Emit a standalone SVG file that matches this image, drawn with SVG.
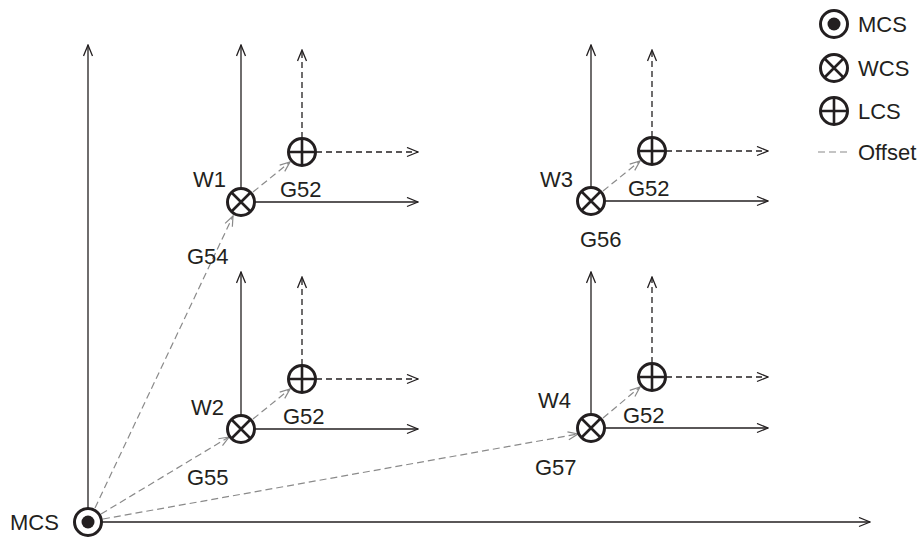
<svg xmlns="http://www.w3.org/2000/svg" xmlns:xlink="http://www.w3.org/1999/xlink" width="923" height="538" viewBox="0 0 923 538">
<style>
text{font-family:"Liberation Sans",Arial,sans-serif;font-size:22px;fill:#231f20}
.ax{stroke:#231f20;stroke-width:1.3;fill:none}
.axd{stroke:#231f20;stroke-width:1.3;fill:none;stroke-dasharray:6,4}
.off{stroke:#8a8a8a;stroke-width:1.2;fill:none;stroke-dasharray:7,4}
.sym{stroke:#231f20;stroke-width:3;fill:#fff}
.symx{stroke:#231f20;stroke-width:2.6}
</style>
<defs>
<marker id="ah" markerUnits="userSpaceOnUse" markerWidth="13" markerHeight="11" refX="11" refY="4.5" orient="auto" viewBox="-1 -1 13 11">
<path d="M0,0 L11,4.5 L0,9" fill="none" stroke="#231f20" stroke-width="1.3"/>
</marker>
<marker id="ahg" markerUnits="userSpaceOnUse" markerWidth="12" markerHeight="10" refX="10" refY="4" orient="auto" viewBox="-1 -1 12 10">
<path d="M0,0 L10,4 L0,8" fill="none" stroke="#8a8a8a" stroke-width="1.2"/>
</marker>
<g id="mcs-sym"><circle r="13.5" class="sym"/><circle r="6.5" fill="#231f20"/></g>
<g id="wcs-sym"><circle r="13.5" class="sym"/><path class="symx" d="M-9.5,-9.5 L9.5,9.5 M-9.5,9.5 L9.5,-9.5"/></g>
<g id="lcs-sym"><circle r="13.5" class="sym"/><path class="symx" d="M-13.5,0 L13.5,0 M0,-13.5 L0,13.5"/></g>
</defs>

<g id="connectors">
<line class="off" x1="95" y1="508" x2="233" y2="216" marker-end="url(#ahg)"/>
<line class="off" x1="101" y1="514" x2="229" y2="437" marker-end="url(#ahg)"/>
<line class="off" x1="103" y1="519" x2="578" y2="434" marker-end="url(#ahg)"/>
<line class="off" x1="253" y1="192" x2="290" y2="162" marker-end="url(#ahg)"/>
<line class="off" x1="253" y1="419" x2="290" y2="389" marker-end="url(#ahg)"/>
<line class="off" x1="603" y1="191" x2="640" y2="161" marker-end="url(#ahg)"/>
<line class="off" x1="603" y1="418" x2="640" y2="387" marker-end="url(#ahg)"/>
<text x="187" y="264">G54</text>
<text x="187" y="485">G55</text>
<text x="580" y="247">G56</text>
<text x="535" y="475">G57</text>
</g>

<g id="mcs">
<line class="ax" x1="88" y1="508" x2="88" y2="45" marker-end="url(#ah)"/>
<line class="ax" x1="102" y1="522" x2="870" y2="522" marker-end="url(#ah)"/>
<use xlink:href="#mcs-sym" x="88" y="522"/>
<text x="10" y="530">MCS</text>
</g>

<g id="w1">
<line class="ax" x1="241" y1="188" x2="241" y2="45" marker-end="url(#ah)"/>
<line class="ax" x1="255" y1="202" x2="418" y2="202" marker-end="url(#ah)"/>
<use xlink:href="#wcs-sym" x="241" y="202"/>
<text x="193" y="187">W1</text>
</g>
<g id="lcs1">
<line class="axd" x1="302" y1="138" x2="302" y2="50" marker-end="url(#ah)"/>
<line class="axd" x1="316" y1="152" x2="418" y2="152" marker-end="url(#ah)"/>
<use xlink:href="#lcs-sym" x="302" y="152"/>
<text x="280" y="197">G52</text>
</g>

<g id="w2">
<line class="ax" x1="241" y1="415" x2="241" y2="272" marker-end="url(#ah)"/>
<line class="ax" x1="255" y1="429" x2="418" y2="429" marker-end="url(#ah)"/>
<use xlink:href="#wcs-sym" x="241" y="429"/>
<text x="191" y="415">W2</text>
</g>
<g id="lcs2">
<line class="axd" x1="302" y1="365" x2="302" y2="277" marker-end="url(#ah)"/>
<line class="axd" x1="316" y1="379" x2="418" y2="379" marker-end="url(#ah)"/>
<use xlink:href="#lcs-sym" x="302" y="379"/>
<text x="283" y="424">G52</text>
</g>

<g id="w3">
<line class="ax" x1="591" y1="187" x2="591" y2="45" marker-end="url(#ah)"/>
<line class="ax" x1="605" y1="201" x2="768" y2="201" marker-end="url(#ah)"/>
<use xlink:href="#wcs-sym" x="591" y="201"/>
<text x="540" y="187">W3</text>
</g>
<g id="lcs3">
<line class="axd" x1="652" y1="137" x2="652" y2="50" marker-end="url(#ah)"/>
<line class="axd" x1="666" y1="151" x2="768" y2="151" marker-end="url(#ah)"/>
<use xlink:href="#lcs-sym" x="652" y="151"/>
<text x="628" y="196">G52</text>
</g>

<g id="w4">
<line class="ax" x1="591" y1="414" x2="591" y2="272" marker-end="url(#ah)"/>
<line class="ax" x1="605" y1="428" x2="768" y2="428" marker-end="url(#ah)"/>
<use xlink:href="#wcs-sym" x="591" y="428"/>
<text x="538" y="408">W4</text>
</g>
<g id="lcs4">
<line class="axd" x1="652" y1="363" x2="652" y2="277" marker-end="url(#ah)"/>
<line class="axd" x1="666" y1="377" x2="768" y2="377" marker-end="url(#ah)"/>
<use xlink:href="#lcs-sym" x="652" y="377"/>
<text x="623" y="423">G52</text>
</g>

<g id="legend">
<use xlink:href="#mcs-sym" x="834" y="24"/>
<text x="858" y="32">MCS</text>
<use xlink:href="#wcs-sym" x="834" y="68"/>
<text x="858" y="76">WCS</text>
<use xlink:href="#lcs-sym" x="834" y="111"/>
<text x="858" y="119">LCS</text>
<line class="off" x1="818" y1="152" x2="851" y2="152" stroke-dasharray="6,4"/>
<text x="858" y="160">Offset</text>
</g>
</svg>
